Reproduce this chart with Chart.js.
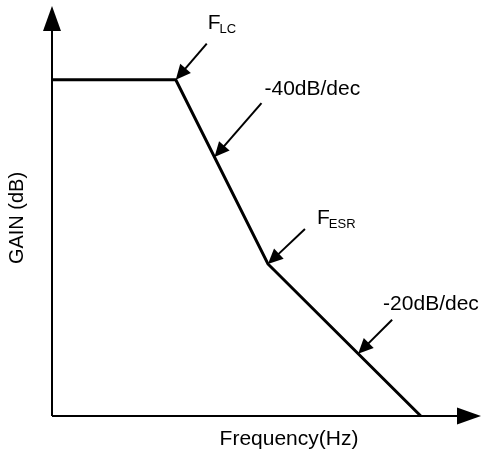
<!DOCTYPE html>
<html>
<head>
<meta charset="utf-8">
<script src="https://cdn.jsdelivr.net/npm/chart.js@4/dist/chart.umd.min.js"></script>
<style>
  html, body { margin: 0; padding: 0; background: #fff; }
  canvas { display: block; }
</style>
</head>
<body>
<canvas id="myChart" width="481" height="452"></canvas>
<script>
// asymptotic bode plot: frequency (Hz, log axis) vs gain (dB)
const freq = [1, 22, 220, 10000];
const gain = [73, 73, 33, 0];
const xRange = [1, 45000];
const yRange = [0, 89];
const xTitle = 'Frequency(Hz)';
const yTitle = 'GAIN (dB)';

// callouts: text, subscript, which segment (from point index), t along it, arrow vector, text offset
const callouts = [
    { main: 'F', sub: 'LC', from: 1, t: 0, arrow: [31, -36], text: [32, -51] },
    { main: '-40dB/dec', sub: '', from: 1, t: 0.42, arrow: [47, -54], text: [50, -62] },
    { main: 'F', sub: 'ESR', from: 2, t: 0, arrow: [37, -35], text: [49, -40] },
    { main: '-20dB/dec', sub: '', from: 2, t: 0.59, arrow: [34, -34], text: [25, -44] },
];

const FONT = '"Liberation Sans", Arial, sans-serif';

function arrowHead(c, x, y, angle, len, half) {
    c.save();
    c.translate(x, y);
    c.rotate(angle);
    c.beginPath();
    c.moveTo(0, 0);
    c.lineTo(-len, -half);
    c.lineTo(-len, half);
    c.closePath();
    c.fill();
    c.restore();
}

const drawing = {
    id: 'drawing',
    afterDraw(chart) {
        const c = chart.ctx;
        const a = chart.chartArea;
        const meta = chart.getDatasetMeta(0).data;
        c.save();
        c.strokeStyle = '#000';
        c.fillStyle = '#000';
        c.lineWidth = 2;

        // axes with arrows
        c.beginPath();
        c.moveTo(a.left, a.bottom);
        c.lineTo(a.left, a.top + 20);
        c.moveTo(a.left, a.bottom);
        c.lineTo(a.right - 20, a.bottom);
        c.stroke();
        arrowHead(c, a.left, a.top, -Math.PI / 2, 25, 9);
        arrowHead(c, a.right, a.bottom, 0, 24, 8.5);

        // callouts
        callouts.forEach(o => {
            const p0 = meta[o.from], p1 = meta[o.from + 1];
            const tx = p0.x + (p1.x - p0.x) * o.t;
            const ty = p0.y + (p1.y - p0.y) * o.t;
            const sx = tx + o.arrow[0], sy = ty + o.arrow[1];
            const ang = Math.atan2(ty - sy, tx - sx);
            c.lineWidth = 2;
            c.beginPath();
            c.moveTo(sx, sy);
            c.lineTo(tx - Math.cos(ang) * 10, ty - Math.sin(ang) * 10);
            c.stroke();
            arrowHead(c, tx, ty, ang, 15, 7);

            c.font = '21px ' + FONT;
            c.textAlign = 'left';
            c.textBaseline = 'alphabetic';
            const lx = tx + o.text[0], ly = ty + o.text[1];
            c.fillText(o.main, lx, ly);
            if (o.sub) {
                const w = c.measureText(o.main).width;
                c.font = '13px ' + FONT;
                c.fillText(o.sub, lx + w - 1, ly + 4);
            }
        });

        // axis titles
        c.font = '21px ' + FONT;
        c.textAlign = 'center';
        c.textBaseline = 'alphabetic';
        c.fillText(xTitle, 289, 445);
        c.font = '20px ' + FONT;
        c.save();
        c.translate(23, 218);
        c.rotate(-Math.PI / 2);
        c.fillText(yTitle, 0, 0);
        c.restore();
        c.restore();
    }
};

const ctx = document.getElementById('myChart');

new Chart(ctx, {
    type: 'line',
    data: {
        datasets: [{
            data: freq.map((f, i) => ({ x: f, y: gain[i] })),
            borderColor: '#000',
            borderWidth: 3,
            borderJoinStyle: 'miter',
            pointRadius: 0,
            tension: 0,
            clip: false
        }]
    },
    options: {
        responsive: false,
        animation: false,
        events: [],
        layout: {
            padding: { left: 52, top: 6, right: 0, bottom: 36 }
        },
        plugins: {
            legend: { display: false },
            tooltip: { enabled: false }
        },
        scales: {
            x: { type: 'logarithmic', min: xRange[0], max: xRange[1], display: false },
            y: { type: 'linear', min: yRange[0], max: yRange[1], display: false }
        }
    },
    plugins: [drawing]
});
</script>
</body>
</html>
